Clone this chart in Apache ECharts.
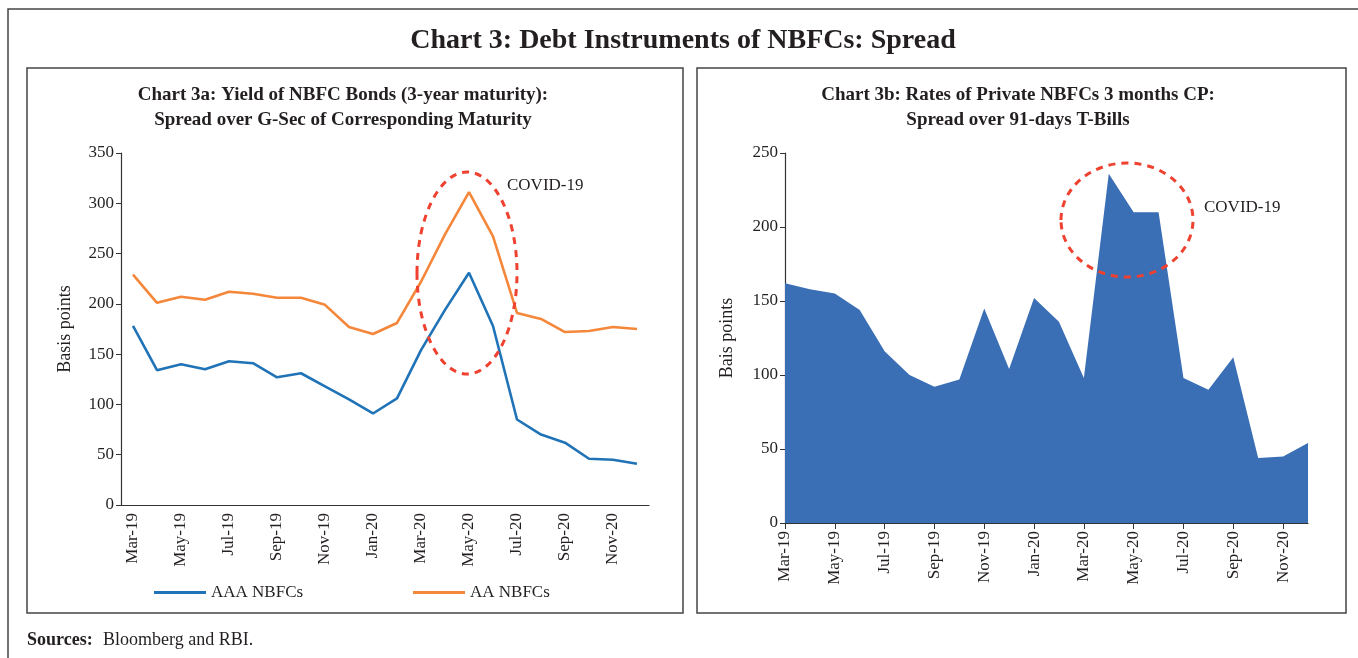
<!DOCTYPE html>
<html>
<head>
<meta charset="utf-8">
<script src="https://cdn.jsdelivr.net/npm/echarts@6/dist/echarts.min.js"></script>
<style>
    html, body { margin: 0; padding: 0; background: #fff; }
    #chart3 { width: 1358px; height: 658px; }
</style>
</head>
<body>
<div id="chart3"></div>
<script>
    // months, Mar-19 .. Dec-20
    var months = ['Mar-19','Apr-19','May-19','Jun-19','Jul-19','Aug-19','Sep-19','Oct-19','Nov-19','Dec-19',
        'Jan-20','Feb-20','Mar-20','Apr-20','May-20','Jun-20','Jul-20','Aug-20','Sep-20','Oct-20','Nov-20','Dec-20'];

    // chart 3a: spread of 3-year NBFC bonds over G-Sec (bps)
    var aaaNbfc = [178, 134, 140, 135, 143, 141, 127, 131, 118, 105, 91, 106, 154, 194, 231, 178, 85, 70, 62, 46, 45, 41];
    var aaNbfc = [229, 201, 207, 204, 212, 210, 206, 206, 199, 177, 170, 181, 222, 269, 311, 267, 191, 185, 172, 173, 177, 175];

    // chart 3b: private NBFC 3m CP spread over 91-day T-Bills (bps)
    var cpSpread = [162, 158, 155, 144, 116, 100, 92, 97, 145, 104, 152, 136, 98, 236, 210, 210, 98, 90, 112, 44, 45, 54];

    var yTicksLeft = [0, 350, 50];
    var yTicksRight = [0, 250, 50];

    var serif = '"Liberation Serif", "DejaVu Serif", serif';
    var ink = '#231f20';

    var myChart = echarts.init(document.getElementById('chart3'));

    function xAxisBase(gridIndex, boundaryGap) {
        return {
            type: 'category',
            gridIndex: gridIndex,
            data: months,
            boundaryGap: boundaryGap,
            axisLine: { lineStyle: { color: '#333', width: 1.2 } },
            axisTick: { interval: 1, length: 6, lineStyle: { color: '#333' } },
            axisLabel: { interval: 1, rotate: 90, color: ink, fontFamily: serif, fontSize: 17, margin: 8 }
        };
    }

    function yAxisBase(gridIndex, ticks, name, gap) {
        return {
            type: 'value',
            gridIndex: gridIndex,
            min: ticks[0], max: ticks[1], interval: ticks[2],
            name: name,
            nameLocation: 'middle',
            nameGap: gap,
            nameTextStyle: { color: ink, fontFamily: serif, fontSize: 18 },
            axisLine: { show: true, lineStyle: { color: '#333', width: 1.2 } },
            axisTick: { show: true, length: 5, lineStyle: { color: '#333' } },
            axisLabel: { color: ink, fontFamily: serif, fontSize: 17, margin: 7 },
            splitLine: { show: false }
        };
    }

    var redDash = { stroke: '#ef4130', lineWidth: 3, lineDash: [7, 6], fill: 'none' };

    myChart.setOption({
        animation: false,
        textStyle: { fontFamily: serif },
        grid: [
            { left: 121, top: 153, width: 528, height: 352 },
            { left: 785, top: 153, width: 523, height: 370 }
        ],
        xAxis: [xAxisBase(0, true), xAxisBase(1, false)],
        yAxis: [yAxisBase(0, yTicksLeft, 'Basis points', 47), yAxisBase(1, yTicksRight, 'Bais points', 49)],
        legend: [
            {
                data: ['AAA NBFCs'], left: 149, top: 579,
                icon: 'rect', itemWidth: 52, itemHeight: 3,
                textStyle: { color: ink, fontFamily: serif, fontSize: 17 }
            },
            {
                data: ['AA NBFCs'], left: 408, top: 579,
                icon: 'rect', itemWidth: 52, itemHeight: 3,
                textStyle: { color: ink, fontFamily: serif, fontSize: 17 }
            }
        ],
        series: [
            {
                name: 'AAA NBFCs', type: 'line', xAxisIndex: 0, yAxisIndex: 0,
                data: aaaNbfc, symbol: 'none', color: '#1f73b6',
                lineStyle: { width: 2.6 }
            },
            {
                name: 'AA NBFCs', type: 'line', xAxisIndex: 0, yAxisIndex: 0,
                data: aaNbfc, symbol: 'none', color: '#f5873a',
                lineStyle: { width: 2.6 }
            },
            {
                name: 'CP spread', type: 'line', xAxisIndex: 1, yAxisIndex: 1,
                data: cpSpread, symbol: 'none', color: '#3a6eb5',
                lineStyle: { width: 0 },
                areaStyle: { color: '#3a6eb5', opacity: 1 }
            }
        ],
        graphic: [
            // outer frame and panels
            { type: 'rect', shape: { x: 8, y: 9, width: 1370, height: 680 }, style: { fill: 'none', stroke: '#444', lineWidth: 1.5 }, silent: true },
            { type: 'rect', shape: { x: 27, y: 68, width: 656, height: 545 }, style: { fill: 'none', stroke: '#444', lineWidth: 1.5 }, silent: true },
            { type: 'rect', shape: { x: 697, y: 68, width: 649, height: 545 }, style: { fill: 'none', stroke: '#444', lineWidth: 1.5 }, silent: true },
            // titles
            { type: 'text', x: 683, y: 41, style: { text: 'Chart 3: Debt Instruments of NBFCs: Spread', fill: ink, font: 'bold 28px ' + serif, align: 'center', verticalAlign: 'middle' } },
            { type: 'text', x: 343, y: 95, style: { text: 'Chart 3a: Yield of NBFC Bonds (3-year maturity):', fill: ink, font: 'bold 19px ' + serif, align: 'center', verticalAlign: 'middle' } },
            { type: 'text', x: 343, y: 120, style: { text: 'Spread over G-Sec of Corresponding Maturity', fill: ink, font: 'bold 19px ' + serif, align: 'center', verticalAlign: 'middle' } },
            { type: 'text', x: 1018, y: 95, style: { text: 'Chart 3b: Rates of Private NBFCs 3 months CP:', fill: ink, font: 'bold 19px ' + serif, align: 'center', verticalAlign: 'middle' } },
            { type: 'text', x: 1018, y: 120, style: { text: 'Spread over 91-days T-Bills', fill: ink, font: 'bold 19px ' + serif, align: 'center', verticalAlign: 'middle' } },
            // covid annotations
            { type: 'ellipse', shape: { cx: 467, cy: 273, rx: 50, ry: 101 }, style: redDash, silent: true, z: 100 },
            { type: 'text', x: 507, y: 186, style: { text: 'COVID-19', fill: ink, font: '17px ' + serif, verticalAlign: 'middle' }, z: 100 },
            { type: 'ellipse', shape: { cx: 1127, cy: 220, rx: 66, ry: 57 }, style: redDash, silent: true, z: 100 },
            { type: 'text', x: 1204, y: 208, style: { text: 'COVID-19', fill: ink, font: '17px ' + serif, verticalAlign: 'middle' }, z: 100 },
            // sources
            { type: 'text', x: 27, y: 640, style: { text: 'Sources:', fill: ink, font: 'bold 18px ' + serif, verticalAlign: 'middle' } },
            { type: 'text', x: 103, y: 640, style: { text: 'Bloomberg and RBI.', fill: ink, font: '18px ' + serif, verticalAlign: 'middle' } }
        ]
    });
</script>
</body>
</html>
